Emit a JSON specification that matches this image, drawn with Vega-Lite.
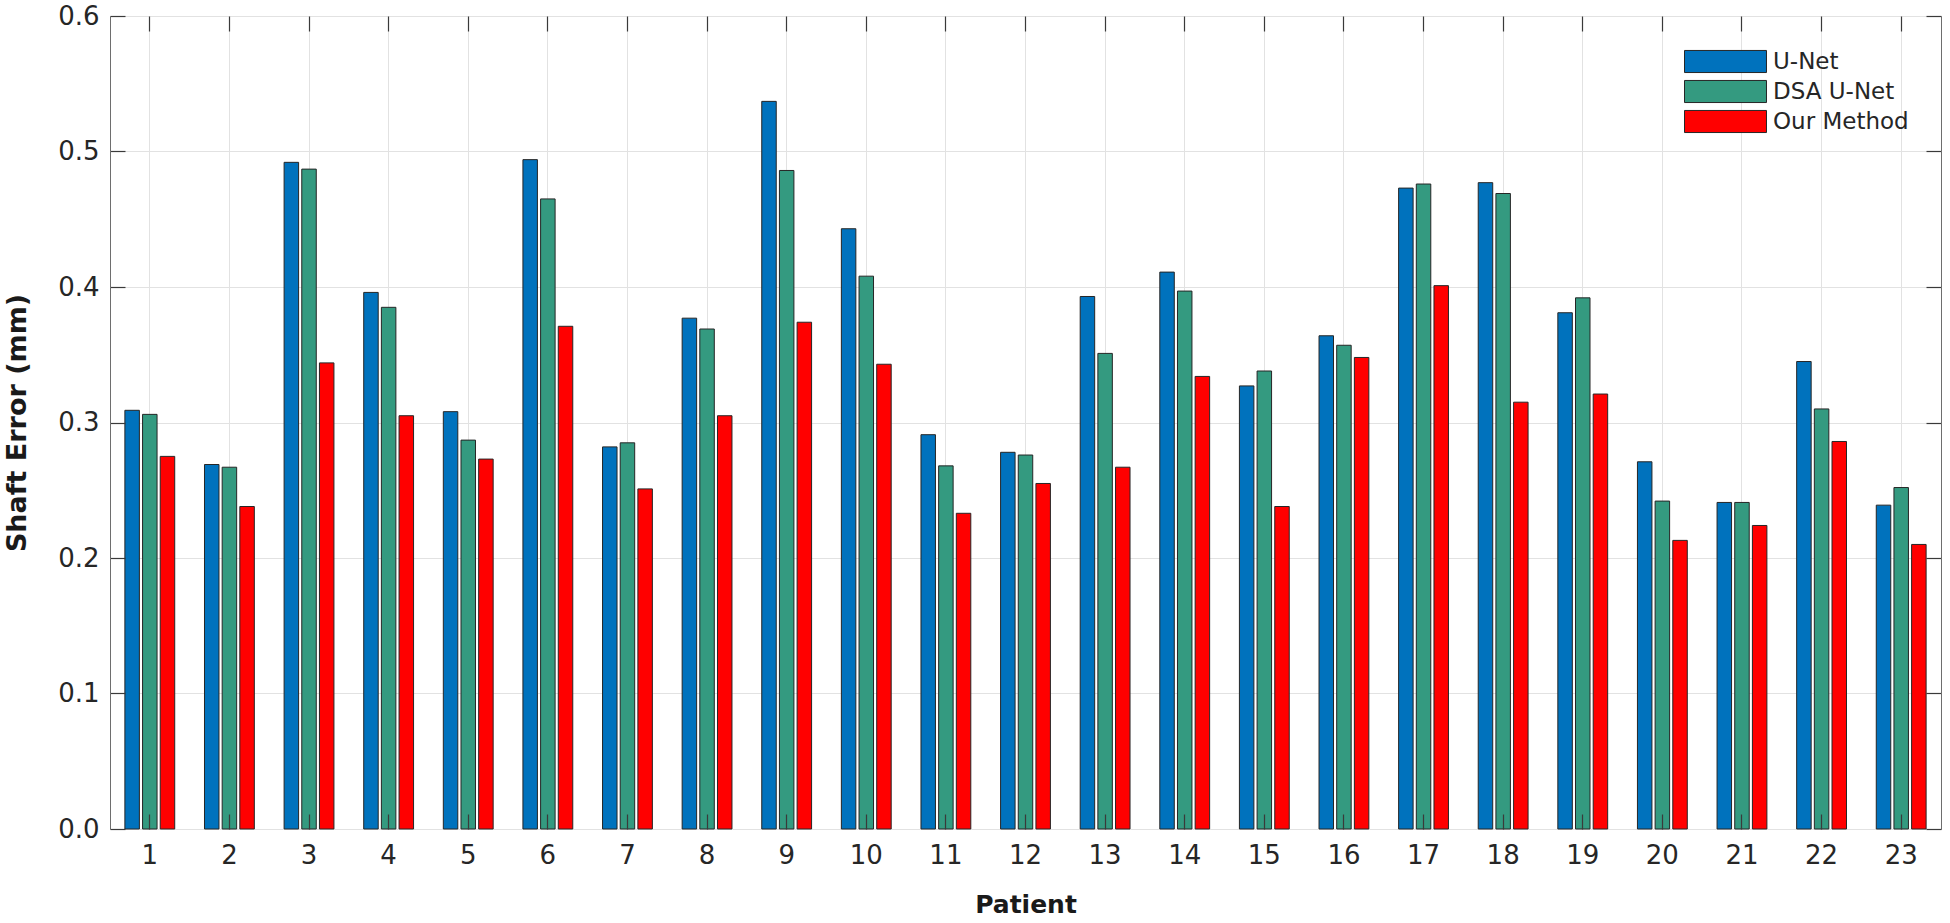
{
  "$schema": "https://vega.github.io/schema/vega-lite/v6.json",
  "width": 1831,
  "height": 813,
  "autosize": "none",
  "padding": {"left": 110, "top": 16, "right": 9, "bottom": 94},
  "background": "white",
  "config": {
    "font": "DejaVu Sans",
    "view": {"stroke": "#6e6e6e", "strokeWidth": 1}
  },
  "datasets": {
    "errs": [
      {"Patient": 1, "Method": "U-Net", "Error": 0.309}, {"Patient": 1, "Method": "DSA U-Net", "Error": 0.306}, {"Patient": 1, "Method": "Our Method", "Error": 0.275},
      {"Patient": 2, "Method": "U-Net", "Error": 0.269}, {"Patient": 2, "Method": "DSA U-Net", "Error": 0.267}, {"Patient": 2, "Method": "Our Method", "Error": 0.238},
      {"Patient": 3, "Method": "U-Net", "Error": 0.492}, {"Patient": 3, "Method": "DSA U-Net", "Error": 0.487}, {"Patient": 3, "Method": "Our Method", "Error": 0.344},
      {"Patient": 4, "Method": "U-Net", "Error": 0.396}, {"Patient": 4, "Method": "DSA U-Net", "Error": 0.385}, {"Patient": 4, "Method": "Our Method", "Error": 0.305},
      {"Patient": 5, "Method": "U-Net", "Error": 0.308}, {"Patient": 5, "Method": "DSA U-Net", "Error": 0.287}, {"Patient": 5, "Method": "Our Method", "Error": 0.273},
      {"Patient": 6, "Method": "U-Net", "Error": 0.494}, {"Patient": 6, "Method": "DSA U-Net", "Error": 0.465}, {"Patient": 6, "Method": "Our Method", "Error": 0.371},
      {"Patient": 7, "Method": "U-Net", "Error": 0.282}, {"Patient": 7, "Method": "DSA U-Net", "Error": 0.285}, {"Patient": 7, "Method": "Our Method", "Error": 0.251},
      {"Patient": 8, "Method": "U-Net", "Error": 0.377}, {"Patient": 8, "Method": "DSA U-Net", "Error": 0.369}, {"Patient": 8, "Method": "Our Method", "Error": 0.305},
      {"Patient": 9, "Method": "U-Net", "Error": 0.537}, {"Patient": 9, "Method": "DSA U-Net", "Error": 0.486}, {"Patient": 9, "Method": "Our Method", "Error": 0.374},
      {"Patient": 10, "Method": "U-Net", "Error": 0.443}, {"Patient": 10, "Method": "DSA U-Net", "Error": 0.408}, {"Patient": 10, "Method": "Our Method", "Error": 0.343},
      {"Patient": 11, "Method": "U-Net", "Error": 0.291}, {"Patient": 11, "Method": "DSA U-Net", "Error": 0.268}, {"Patient": 11, "Method": "Our Method", "Error": 0.233},
      {"Patient": 12, "Method": "U-Net", "Error": 0.278}, {"Patient": 12, "Method": "DSA U-Net", "Error": 0.276}, {"Patient": 12, "Method": "Our Method", "Error": 0.255},
      {"Patient": 13, "Method": "U-Net", "Error": 0.393}, {"Patient": 13, "Method": "DSA U-Net", "Error": 0.351}, {"Patient": 13, "Method": "Our Method", "Error": 0.267},
      {"Patient": 14, "Method": "U-Net", "Error": 0.411}, {"Patient": 14, "Method": "DSA U-Net", "Error": 0.397}, {"Patient": 14, "Method": "Our Method", "Error": 0.334},
      {"Patient": 15, "Method": "U-Net", "Error": 0.327}, {"Patient": 15, "Method": "DSA U-Net", "Error": 0.338}, {"Patient": 15, "Method": "Our Method", "Error": 0.238},
      {"Patient": 16, "Method": "U-Net", "Error": 0.364}, {"Patient": 16, "Method": "DSA U-Net", "Error": 0.357}, {"Patient": 16, "Method": "Our Method", "Error": 0.348},
      {"Patient": 17, "Method": "U-Net", "Error": 0.473}, {"Patient": 17, "Method": "DSA U-Net", "Error": 0.476}, {"Patient": 17, "Method": "Our Method", "Error": 0.401},
      {"Patient": 18, "Method": "U-Net", "Error": 0.477}, {"Patient": 18, "Method": "DSA U-Net", "Error": 0.469}, {"Patient": 18, "Method": "Our Method", "Error": 0.315},
      {"Patient": 19, "Method": "U-Net", "Error": 0.381}, {"Patient": 19, "Method": "DSA U-Net", "Error": 0.392}, {"Patient": 19, "Method": "Our Method", "Error": 0.321},
      {"Patient": 20, "Method": "U-Net", "Error": 0.271}, {"Patient": 20, "Method": "DSA U-Net", "Error": 0.242}, {"Patient": 20, "Method": "Our Method", "Error": 0.213},
      {"Patient": 21, "Method": "U-Net", "Error": 0.241}, {"Patient": 21, "Method": "DSA U-Net", "Error": 0.241}, {"Patient": 21, "Method": "Our Method", "Error": 0.224},
      {"Patient": 22, "Method": "U-Net", "Error": 0.345}, {"Patient": 22, "Method": "DSA U-Net", "Error": 0.310}, {"Patient": 22, "Method": "Our Method", "Error": 0.286},
      {"Patient": 23, "Method": "U-Net", "Error": 0.239}, {"Patient": 23, "Method": "DSA U-Net", "Error": 0.252}, {"Patient": 23, "Method": "Our Method", "Error": 0.210}
    ]
  },
  "data": {"name": "errs"},
  "layer": [
    {
      "mark": {"type": "tick", "opacity": 0},
      "encoding": {
        "x": {
          "field": "Patient", "type": "ordinal",
          "axis": {
            "orient": "top", "grid": true, "gridColor": "#e2e2e2", "gridWidth": 1,
            "bandPosition": 0.5, "domain": false, "ticks": true, "tickSize": -15,
            "tickColor": "#3a3a3a", "tickWidth": 1.2, "labels": false, "title": null, "zindex": 0
          }
        },
        "y": {
          "field": "Error", "type": "quantitative",
          "axis": {
            "orient": "right", "grid": true, "gridColor": "#e2e2e2", "gridWidth": 1,
            "values": [0, 0.1, 0.2, 0.3, 0.4, 0.5, 0.6], "domain": false,
            "ticks": true, "tickSize": -15, "tickColor": "#3a3a3a", "tickWidth": 1.2,
            "labels": false, "title": null, "zindex": 0
          }
        }
      }
    },
    {
      "mark": {"type": "bar", "stroke": "#262626", "strokeWidth": 1},
      "encoding": {
        "x": {
          "field": "Patient", "type": "ordinal",
          "scale": {"paddingInner": 0.334, "paddingOuter": 0.167},
          "axis": {
            "orient": "bottom", "grid": false, "domain": false, "bandPosition": 0.5,
            "ticks": true, "tickSize": -15, "tickColor": "#3a3a3a", "tickWidth": 1.2,
            "labelAngle": 0, "labelFontSize": 26, "labelColor": "#262626",
            "labelBaseline": "middle", "labelPadding": 41,
            "title": "Patient", "titleFontSize": 25, "titleFontWeight": "bold",
            "titleColor": "#1a1a1a", "titleX": 915.5, "titleY": 75,
            "titleBaseline": "middle", "titleAlign": "center", "zindex": 1
          }
        },
        "xOffset": {
          "field": "Method", "type": "nominal",
          "sort": ["U-Net", "DSA U-Net", "Our Method"],
          "scale": {"paddingInner": 0.18, "paddingOuter": 0.09}
        },
        "y": {
          "field": "Error", "type": "quantitative",
          "scale": {"domain": [0, 0.6], "nice": false},
          "axis": {
            "orient": "left", "grid": false, "domain": false,
            "values": [0, 0.1, 0.2, 0.3, 0.4, 0.5, 0.6], "format": ".1f",
            "ticks": true, "tickSize": -15, "tickColor": "#3a3a3a", "tickWidth": 1.2,
            "labelFontSize": 26, "labelColor": "#262626", "labelPadding": 26,
            "title": "Shaft Error (mm)", "titleFontSize": 27, "titleFontWeight": "bold",
            "titleColor": "#1a1a1a", "titleX": -93, "titleY": 406.5, "titleAngle": -90,
            "titleBaseline": "middle", "titleAlign": "center", "zindex": 1
          }
        },
        "fill": {
          "field": "Method", "type": "nominal",
          "scale": {
            "domain": ["U-Net", "DSA U-Net", "Our Method"],
            "range": ["#0072BD", "#349A80", "#FF0000"]
          },
          "legend": {
            "orient": "none", "legendX": 1599, "legendY": 29, "title": null,
            "symbolType": "M-2.6,-0.7H2.6V0.7H-2.6Z", "symbolSize": 994,
            "symbolStrokeColor": "#262626", "symbolStrokeWidth": 1, "symbolOpacity": 1,
            "labelFontSize": 23, "labelColor": "#262626", "labelOffset": 31,
            "rowPadding": 0, "padding": 0
          }
        }
      }
    }
  ],
  "resolve": {"axis": {"x": "independent", "y": "independent"}}
}
